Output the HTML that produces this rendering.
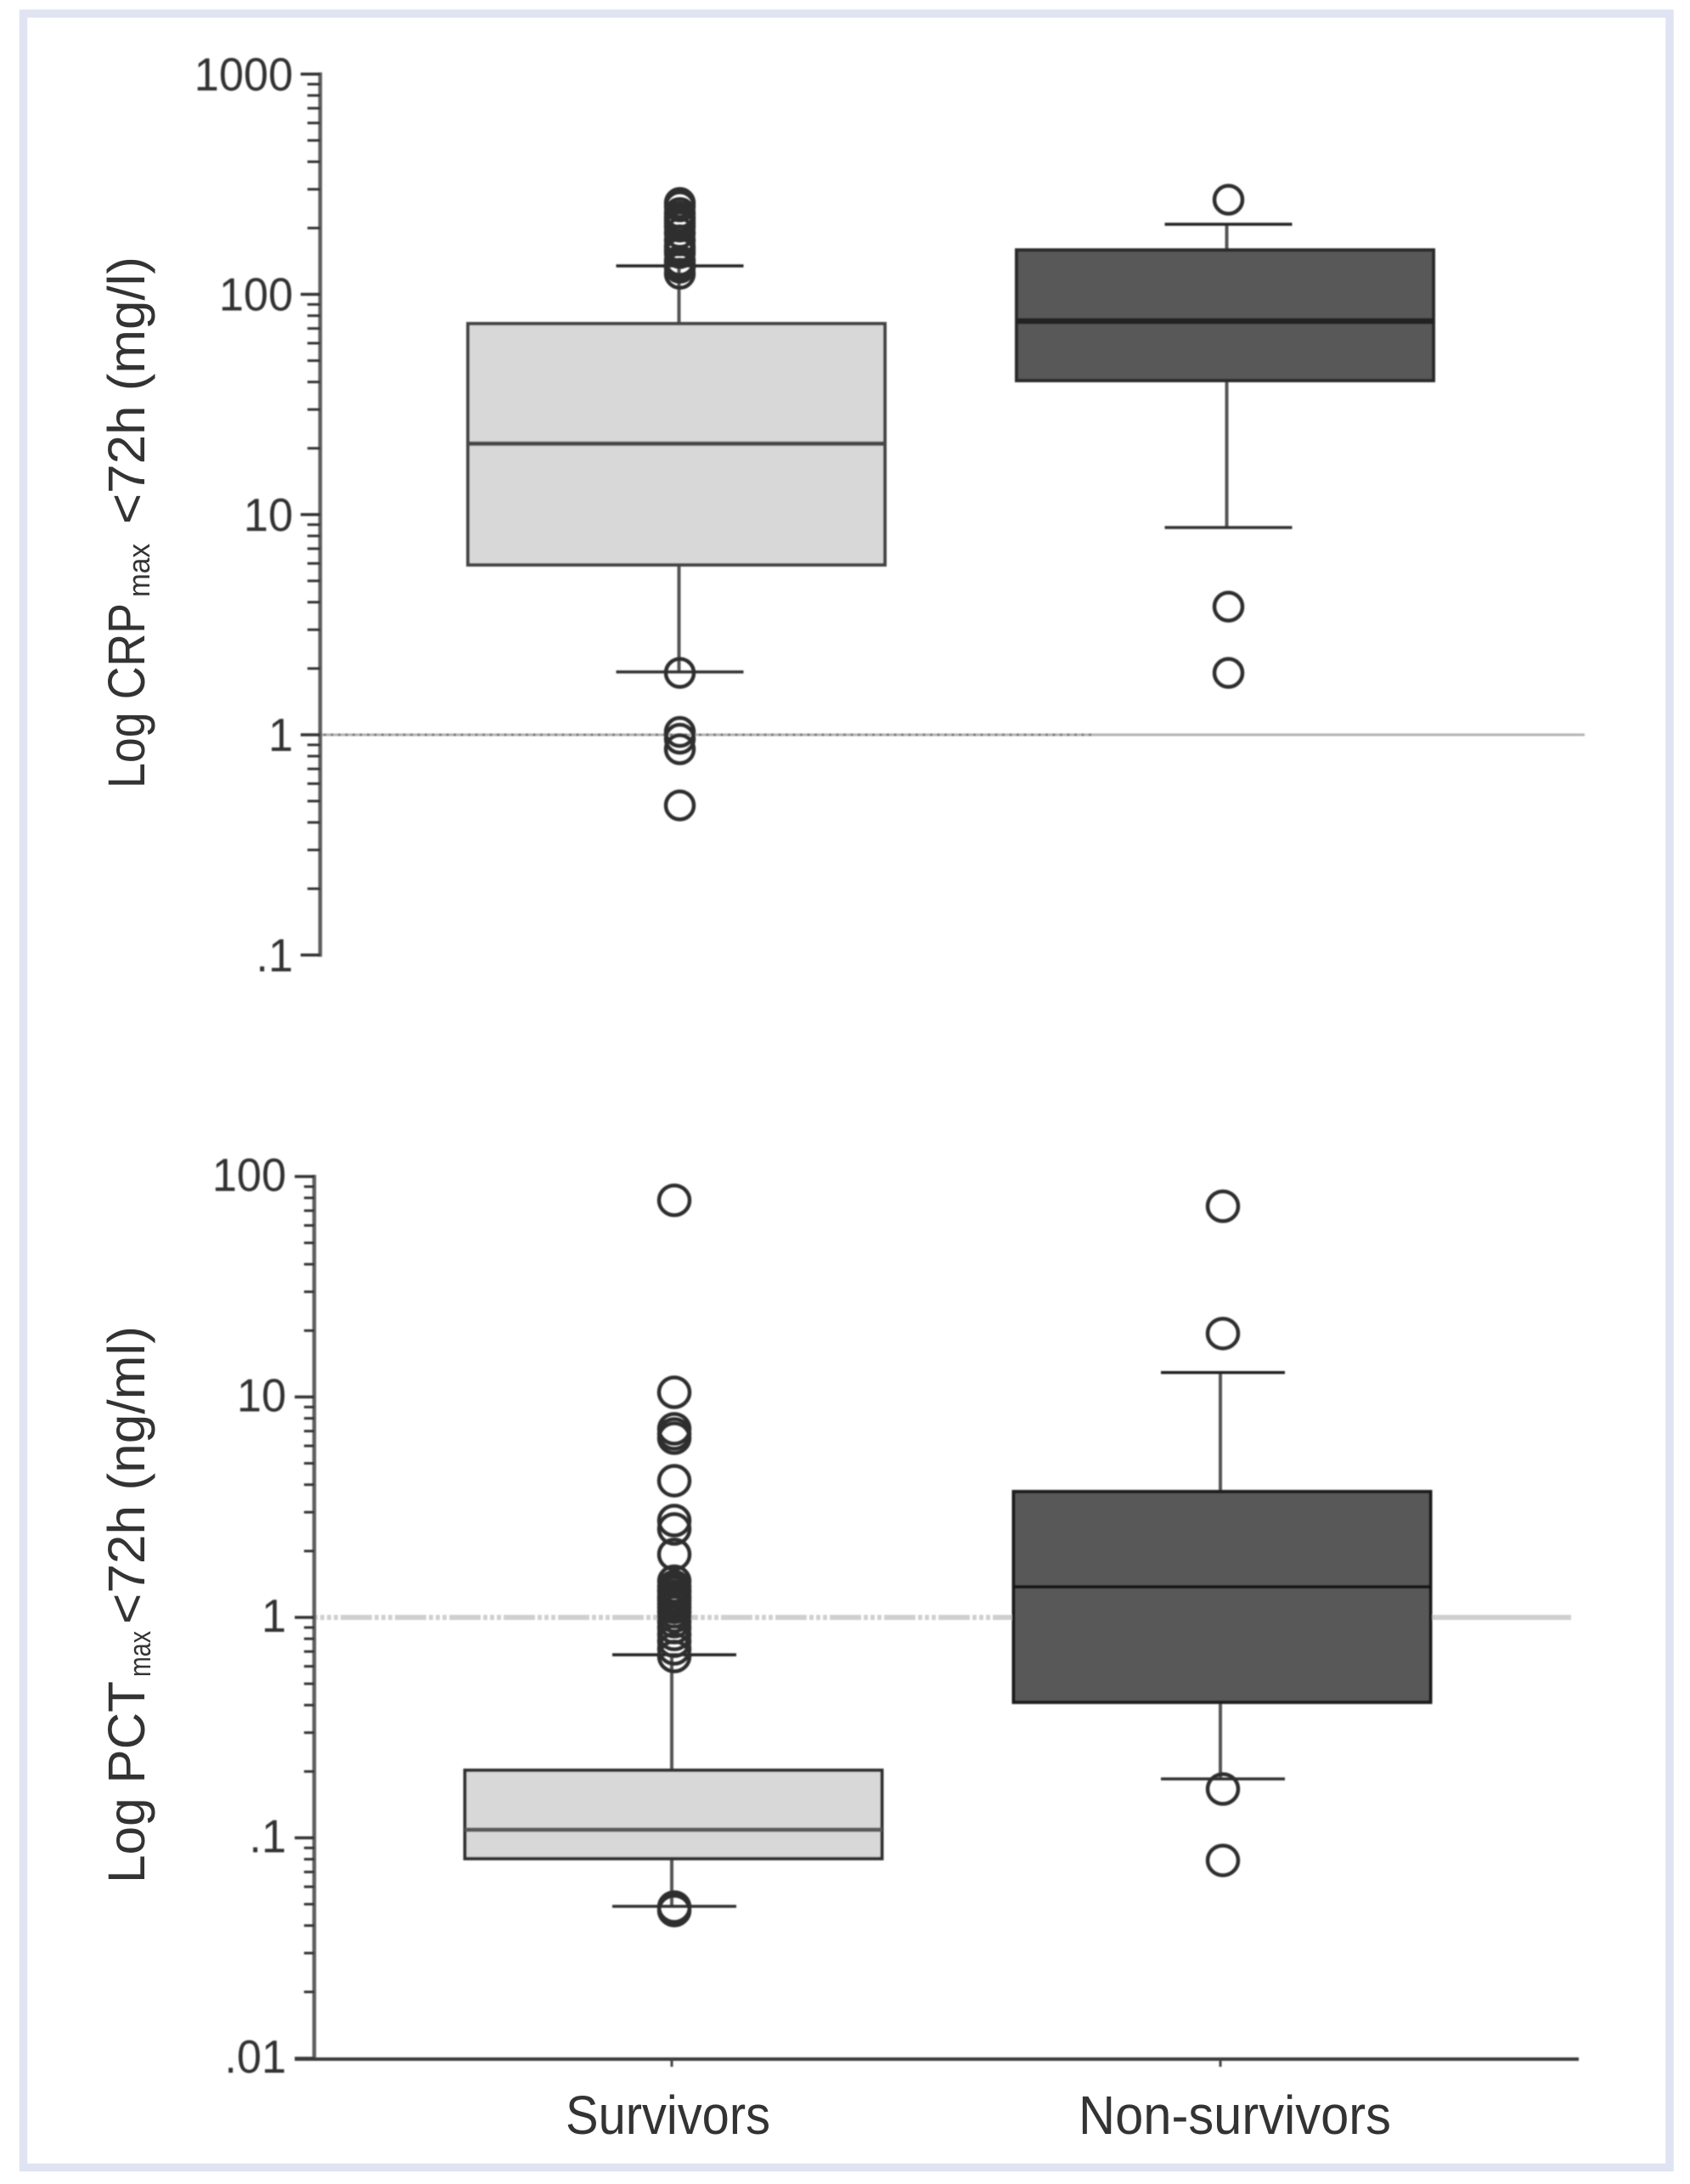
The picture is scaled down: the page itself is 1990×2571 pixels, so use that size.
<!DOCTYPE html>
<html lang="en">
<head>
<meta charset="utf-8">
<title>Log CRP and PCT box plots for survivors and non-survivors</title>
<style>
html,body{margin:0;padding:0;background:#fff;}
svg{display:block;}
text{font-family:"Liberation Sans",sans-serif;fill:#333333;}
</style>
</head>
<body>
<svg id="figure" xmlns="http://www.w3.org/2000/svg" width="1990" height="2571" viewBox="0 0 1990 2571">
  <defs>
    <filter id="soften" x="-2%" y="-2%" width="104%" height="104%"><feGaussianBlur stdDeviation="0.7"/></filter>
  </defs>
  <rect x="0" y="0" width="1990" height="2571" fill="#ffffff"/>
  <rect x="27.5" y="16" width="1938.5" height="2535.5" fill="#ffffff" stroke="#e0e4f2" stroke-width="9.5"/>
  <g id="crp-panel" filter="url(#soften)"></g>
  <g id="pct-panel" filter="url(#soften)"></g>

  <text transform="translate(170,928) rotate(-90)" font-size="61" textLength="218" lengthAdjust="spacingAndGlyphs">Log CRP</text>
  <text transform="translate(176,703) rotate(-90)" font-size="36" textLength="63" lengthAdjust="spacingAndGlyphs">max</text>
  <text transform="translate(170,617) rotate(-90)" font-size="61" textLength="315" lengthAdjust="spacingAndGlyphs">&lt;72h (mg/l)</text>

  <text transform="translate(170,2217) rotate(-90)" font-size="61" textLength="238" lengthAdjust="spacingAndGlyphs">Log PCT</text>
  <text transform="translate(177,1974) rotate(-90)" font-size="36" textLength="54" lengthAdjust="spacingAndGlyphs">max</text>
  <text transform="translate(170,1912) rotate(-90)" font-size="61" textLength="351" lengthAdjust="spacingAndGlyphs">&lt;72h (ng/ml)</text>

  <text x="666" y="2512" font-size="64" textLength="241" lengthAdjust="spacingAndGlyphs">Survivors</text>
  <text x="1270" y="2512" font-size="64" textLength="368" lengthAdjust="spacingAndGlyphs">Non-survivors</text>
</svg>

<script>
// Shared categories
const categories = ['Survivors', 'Non-survivors'];

// CRP chart values (mg/l)
const crpTickValues = [1000, 100, 10, 1, 0.1];
const crpTickLabels = ['1000', '100', '10', '1', '.1'];
const crpQ1 = [5.91, 40.6];
const crpMedian = [21.0, 75.6];
const crpQ3 = [73.6, 159];
const crpWhiskerLow = [1.93, 8.73];
const crpWhiskerHigh = [134.6, 208];
const crpOutliersSurvivors = [260, 251, 234, 225, 218, 210, 203, 190, 176, 165, 159, 154, 142, 137, 132, 124, 1.91, 1.03, 0.96, 0.86, 0.478];
const crpOutliersNonSurvivors = [269, 3.82, 1.91];
const crpReference = [1];

// PCT chart values (ng/ml)
const pctTickValues = [100, 10, 1, 0.1, 0.01];
const pctTickLabels = ['100', '10', '1', '.1', '.01'];
const pctQ1 = [0.0805, 0.412];
const pctMedian = [0.1088, 1.377];
const pctQ3 = [0.2025, 3.72];
const pctWhiskerLow = [0.0489, 0.185];
const pctWhiskerHigh = [0.677, 12.9];
const pctOutliersSurvivors = [78, 10.5, 7.17, 6.8, 6.5, 4.17, 2.75, 2.52, 1.93, 1.46, 1.38, 1.33, 1.30, 1.25, 1.22, 1.19, 1.15, 1.11, 1.06, 1.01, 0.957, 0.899, 0.837, 0.78, 0.72, 0.665, 0.0485, 0.0468];
const pctOutliersNonSurvivors = [73.3, 19.4, 0.1666, 0.079];
const pctReference = [1];

const SVG_NS = 'http://www.w3.org/2000/svg';
function mk(parent, tag, attrs) {
  const el = document.createElementNS(SVG_NS, tag);
  for (const key in attrs) el.setAttribute(key, attrs[key]);
  parent.appendChild(el);
  return el;
}

function drawAxis(parent, cfg, tickValues, tickLabels) {
  const spine = mk(parent, 'line', {x1: cfg.axisX, x2: cfg.axisX, y1: cfg.y(tickValues[0]) - 2, y2: cfg.y(tickValues[tickValues.length - 1]) + 2, stroke: '#5e5e5e', 'stroke-width': 4.5});
  
  
  tickValues.forEach(function (value, i) {
    const major = mk(parent, 'line', {x1: cfg.axisX - cfg.majorLen, x2: cfg.axisX, y1: cfg.y(value), y2: cfg.y(value), stroke: '#333', 'stroke-width': 3.5});
    
    
    const label = mk(parent, 'text', {transform: 'translate(' + cfg.labelX + ',' + (cfg.y(value) + cfg.labelDy) + ') scale(0.95,1)', 'text-anchor': 'end', 'font-size': 55});
    label.textContent = tickLabels[i];
    
    
    if (i < tickValues.length - 1) {
      for (let m = 2; m <= 9; m++) {
        const minorValue = tickValues[i + 1] * m;
        const minor = mk(parent, 'line', {x1: cfg.axisX - cfg.minorLen, x2: cfg.axisX, y1: cfg.y(minorValue), y2: cfg.y(minorValue), stroke: '#333', 'stroke-width': 3});
        
        
      }
    }
  });
}

function drawReference(parent, cfg, value) {
  const y = cfg.y(value);
  const line = mk(parent, 'line', {x1: cfg.axisX + 2, x2: cfg.refEnd, y1: y, y2: y, stroke: cfg.refColor, 'stroke-width': cfg.refWidth});
  
  
  const dots = mk(parent, 'line', {x1: cfg.axisX + 4, x2: cfg.refDotEnd, y1: y, y2: y, stroke: cfg.refDotColor, 'stroke-width': cfg.refWidth, 'stroke-dasharray': cfg.refDash});
  
  
}

function drawBox(parent, cfg, i, q1, med, q3, lo, hi) {
  const cx = cfg.x(i);
  const wx = cx + cfg.whiskerOffset[i];
  const capX = cx + cfg.outlierOffset[i];

  const upper = mk(parent, 'line', {x1: wx, x2: wx, y1: cfg.y(hi), y2: cfg.y(q3), stroke: '#555', 'stroke-width': 4});
  
  
  const lower = mk(parent, 'line', {x1: wx, x2: wx, y1: cfg.y(q1), y2: cfg.y(lo), stroke: '#555', 'stroke-width': 4});
  
  
  const capHi = mk(parent, 'line', {x1: capX - cfg.capHalf, x2: capX + cfg.capHalf, y1: cfg.y(hi), y2: cfg.y(hi), stroke: '#222', 'stroke-width': 3.5});
  
  
  const capLo = mk(parent, 'line', {x1: capX - cfg.capHalf, x2: capX + cfg.capHalf, y1: cfg.y(lo), y2: cfg.y(lo), stroke: '#333', 'stroke-width': 3.5});
  
  

  const top = cfg.y(q3);
  const bottom = cfg.y(q1);
  const box = mk(parent, 'rect', {x: cx - cfg.boxHalf, y: top, width: cfg.boxHalf * 2, height: bottom - top, fill: cfg.fills[i], stroke: cfg.boxStroke[i], 'stroke-width': 4});
  
  
  const median = mk(parent, 'line', {x1: cx - cfg.boxHalf, x2: cx + cfg.boxHalf, y1: cfg.y(med), y2: cfg.y(med), stroke: cfg.medianStroke[i], 'stroke-width': cfg.medianWidth[i]});
  
  
}

function drawOutliers(parent, cfg, i, values) {
  values.forEach(function (value) {
    const dot = mk(parent, 'ellipse', {cx: cfg.x(i) + cfg.outlierOffset[i], cy: cfg.y(value), rx: cfg.outlierRx, ry: cfg.outlierRy, fill: 'none', stroke: '#2e2e2e', 'stroke-width': 4.5});
    
    
  });
}

// Axis functions
const crpConfig = {
  y: function (v) { return 865 - 259.25 * Math.log10(v); },
  x: function (i) { return 796.5 + 646 * i; },
  axisX: 377, majorLen: 23, minorLen: 15, labelX: 345, labelDy: 19,
  boxHalf: 245.5, capHalf: 75,
  whiskerOffset: [3, 2], outlierOffset: [4, 4],
  outlierRx: 16.5, outlierRy: 16.5,
  fills: ['#d8d8d8', '#585858'], boxStroke: ['#454545', '#2c2c2c'],
  medianStroke: ['#474747', '#222222'], medianWidth: [5, 7],
  refEnd: 1866, refDotEnd: 1290, refColor: '#b4b4b4', refDotColor: '#7a7a7a', refWidth: 3, refDash: '3 5.5'
};
const pctConfig = {
  y: function (v) { return 1904 - 259.5 * Math.log10(v); },
  x: function (i) { return 793 + 646 * i; },
  axisX: 370, majorLen: 23, minorLen: 12, labelX: 337, labelDy: 17,
  boxHalf: 245.5, capHalf: 73,
  whiskerOffset: [-2, -2], outlierOffset: [1, 1],
  outlierRx: 18, outlierRy: 17.5,
  fills: ['#d8d8d8', '#585858'], boxStroke: ['#303030', '#1e1e1e'],
  medianStroke: ['#5a5a5a', '#141414'], medianWidth: [5, 4],
  refEnd: 1850, refDotEnd: 1180, refColor: '#cfcfcf', refDotColor: '#ffffff', refWidth: 6, refDash: '3 5 3 5 3 5 3 37'
};

function drawPanel(parent, cfg, tickValues, tickLabels, refValues, q1, med, q3, lo, hi, outliersA, outliersB) {
  refValues.forEach(function (value) { drawReference(parent, cfg, value); });
  drawAxis(parent, cfg, tickValues, tickLabels);
  categories.forEach(function (name, i) {
    drawBox(parent, cfg, i, q1[i], med[i], q3[i], lo[i], hi[i]);
  });
  drawOutliers(parent, cfg, 0, outliersA);
  drawOutliers(parent, cfg, 1, outliersB);
}

const crpPanel = document.getElementById('crp-panel');
const pctPanel = document.getElementById('pct-panel');

drawPanel(crpPanel, crpConfig, crpTickValues, crpTickLabels, crpReference, crpQ1, crpMedian, crpQ3, crpWhiskerLow, crpWhiskerHigh, crpOutliersSurvivors, crpOutliersNonSurvivors);
drawPanel(pctPanel, pctConfig, pctTickValues, pctTickLabels, pctReference, pctQ1, pctMedian, pctQ3, pctWhiskerLow, pctWhiskerHigh, pctOutliersSurvivors, pctOutliersNonSurvivors);

// Category axis on the lower chart
const xAxis = mk(pctPanel, 'line', {x1: pctConfig.axisX - pctConfig.majorLen, x2: 1859, y1: pctConfig.y(0.01) + 1, y2: pctConfig.y(0.01) + 1, stroke: '#3a3a3a', 'stroke-width': 4});


categories.forEach(function (name, i) {
  const tickX = pctConfig.x(i) + pctConfig.whiskerOffset[i];
  const tick = mk(pctPanel, 'line', {x1: tickX, x2: tickX, y1: pctConfig.y(0.01) + 1, y2: pctConfig.y(0.01) + 10, stroke: '#444', 'stroke-width': 3});
  
  
});
</script>
</body>
</html>
